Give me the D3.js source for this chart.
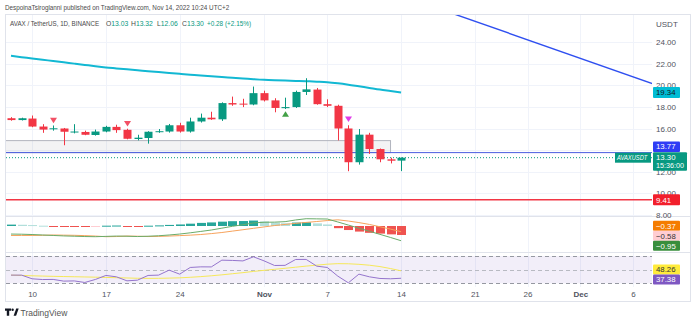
<!DOCTYPE html>
<html>
<head>
<meta charset="utf-8">
<script src="https://cdn.jsdelivr.net/npm/d3@7/dist/d3.min.js"></script>
<style>
  html, body { margin: 0; padding: 0; background: #ffffff; }
  svg { display: block; }
  text { font-family: "Liberation Sans", Arial, sans-serif; }
</style>
</head>
<body>
<svg id="chart" width="696" height="322"></svg>
<script>
// ---- daily AVAX/USDT bars (Binance, 1D) ----
const dates = [
  "2022-10-08","2022-10-09","2022-10-10","2022-10-11","2022-10-12","2022-10-13","2022-10-14",
  "2022-10-15","2022-10-16","2022-10-17","2022-10-18","2022-10-19","2022-10-20","2022-10-21",
  "2022-10-22","2022-10-23","2022-10-24","2022-10-25","2022-10-26","2022-10-27","2022-10-28",
  "2022-10-29","2022-10-30","2022-10-31","2022-11-01","2022-11-02","2022-11-03","2022-11-04",
  "2022-11-05","2022-11-06","2022-11-07","2022-11-08","2022-11-09","2022-11-10","2022-11-11",
  "2022-11-12","2022-11-13","2022-11-14"
];
const opens  = [16.95,16.78,16.92,16.18,15.95,16.00,15.66,15.68,15.40,15.72,16.15,15.88,15.03,15.12,15.68,15.72,16.30,15.72,16.65,17.00,16.85,18.35,18.30,18.22,19.27,18.60,17.88,17.98,19.38,19.60,18.25,18.10,16.00,12.88,15.43,14.10,13.15,13.03];
const highs  = [17.05,17.00,17.20,16.40,16.28,16.05,16.40,15.80,15.90,16.25,16.35,15.98,15.42,15.75,15.95,16.42,16.53,17.00,17.38,17.55,18.42,18.95,18.75,19.88,19.50,18.80,18.85,19.50,20.65,19.75,18.70,18.20,16.30,15.95,15.60,14.15,13.30,13.32];
const lows   = [16.72,16.74,16.12,15.60,15.80,14.45,15.55,15.38,15.34,15.65,15.60,15.00,14.90,14.60,15.60,15.62,15.62,15.62,16.55,16.80,16.70,18.10,17.98,18.15,18.50,17.50,17.80,17.90,19.10,18.20,17.98,14.90,12.05,12.66,13.65,12.88,12.77,12.06];
const closes = [16.78,16.95,16.18,15.90,16.02,15.70,15.72,15.42,15.72,16.15,15.85,15.05,15.15,15.70,15.75,16.30,15.72,16.65,17.00,16.85,18.35,18.22,18.22,19.27,18.60,17.90,17.98,19.38,19.62,18.25,18.10,16.00,12.88,15.43,14.10,13.15,13.02,13.30];

// long moving average (cyan)
const maLong = [22.72,22.60,22.48,22.36,22.24,22.12,22.00,21.88,21.76,21.65,21.56,21.47,21.39,21.30,21.22,21.14,21.06,20.98,20.90,20.83,20.76,20.70,20.63,20.56,20.50,20.46,20.43,20.40,20.37,20.33,20.28,20.18,20.05,19.90,19.75,19.60,19.47,19.34];

// MACD pane
const macdLine   = [-0.52,-0.53,-0.55,-0.58,-0.61,-0.64,-0.66,-0.68,-0.69,-0.67,-0.65,-0.66,-0.68,-0.66,-0.63,-0.58,-0.52,-0.44,-0.35,-0.26,-0.14,-0.02,0.08,0.20,0.24,0.25,0.28,0.39,0.47,0.46,0.45,0.26,0.06,-0.14,-0.34,-0.54,-0.74,-0.95];
const signalLine = [-0.61,-0.61,-0.61,-0.60,-0.58,-0.59,-0.60,-0.62,-0.65,-0.69,-0.68,-0.65,-0.66,-0.68,-0.67,-0.65,-0.62,-0.59,-0.55,-0.49,-0.42,-0.33,-0.24,-0.15,-0.06,0.03,0.10,0.17,0.23,0.29,0.35,0.40,0.32,0.22,0.10,-0.05,-0.20,-0.37];
const macdHist   = [0.09,0.08,0.06,0.02,-0.03,-0.05,-0.06,-0.06,-0.04,0.02,0.03,-0.01,-0.02,0.02,0.04,0.07,0.10,0.15,0.20,0.23,0.28,0.31,0.32,0.35,0.30,0.22,0.18,0.22,0.24,0.17,0.10,-0.14,-0.26,-0.36,-0.44,-0.49,-0.54,-0.58];

// RSI pane
const rsiLine = [42.0,42.0,36.6,35.5,35.7,33.2,33.5,31.2,35.6,41.5,39.5,33.6,34.6,41.5,42.0,49.3,43.4,53.2,54.1,54.0,63.9,63.5,62.8,68.8,62.9,56.1,56.3,64.9,65.0,55.1,53.2,40.5,30.7,43.4,39.5,37.1,36.6,37.38];
const rsiMa   = [42.0,41.5,41.0,40.6,40.2,39.9,39.6,39.3,39.0,38.6,38.2,37.8,37.4,37.2,37.3,37.6,38.0,38.8,39.8,41.0,42.4,44.0,45.6,47.4,49.0,50.5,52.0,53.6,55.2,56.6,58.0,58.8,58.6,57.8,56.5,54.5,51.6,48.26];
const rsiBands = [70, 50, 30];

// signal markers
const sellSignals  = ["2022-10-12","2022-10-19"];
const crashSignals = ["2022-11-09"];
const buySignals   = ["2022-11-03"];

// drawings
const zoneDates  = ["2022-10-01","2022-11-13"];
const zonePrices = [14.88, 13.77];
const trendDates  = ["2022-11-19","2022-12-08"];
const trendPrices = [26.6, 20.1];
const blueLevel = 13.77;
const redLevel = 9.41;
const lastTime = "15:36:00";

// axes (14.00 sits under the level tags, so it only gets a grid line)
const gridTicks = [24, 22, 20, 18, 16, 14, 12, 10, 8];
const priceTicks = [24, 22, 20, 18, 16, 12, 10, 8];
const timeTicks = ["2022-10-10","2022-10-17","2022-10-24","2022-11-01","2022-11-07","2022-11-14","2022-11-21","2022-11-26","2022-12-01","2022-12-06"];
const timeTickLabels = ["10","17","24","Nov","7","14","21","26","Dec","6"];

// ---- layout ----
const W = 696, H = 322;
const plotL = 6, plotR = 652, frameR = 690;
const mainTop = 15, mainBot = 216, macdTop = 217, macdBot = 252, rsiTop = 253, rsiBot = 287, frameBot = 301;
const axisX = 656;

const UP = "#089981", DOWN = "#F23645";
const parse = d3.utcParse("%Y-%m-%d");
const bars = dates.map((d, i) => ({
  key: d, date: parse(d), o: opens[i], h: highs[i], l: lows[i], c: closes[i],
  ma: maLong[i], macd: macdLine[i], sig: signalLine[i], hist: macdHist[i],
  rsi: rsiLine[i], rsiMa: rsiMa[i]
}));

const x = d3.scaleUtc().domain([parse("2022-10-08"), parse("2022-12-06")]).range([11, 633]);
const y = d3.scaleLinear().domain([24, 8]).range([42, 215]);
const yMacd = d3.scaleLinear().domain([0, -1]).range([226, 241.5]);
const yRsi = d3.scaleLinear().domain([70, 30]).range([256, 283.3]);

const svg = d3.select("#chart");
const defs = svg.append("defs");
defs.append("clipPath").attr("id", "clipMain").append("rect")
  .attr("x", plotL).attr("y", mainTop).attr("width", plotR - plotL).attr("height", mainBot - mainTop);
defs.append("clipPath").attr("id", "clipMacd").append("rect")
  .attr("x", plotL).attr("y", macdTop).attr("width", plotR - plotL).attr("height", macdBot - macdTop);
defs.append("clipPath").attr("id", "clipRsi").append("rect")
  .attr("x", plotL).attr("y", rsiTop).attr("width", plotR - plotL).attr("height", rsiBot - rsiTop);

svg.append("rect").attr("width", W).attr("height", H).attr("fill", "#ffffff");

// vertical grid through all panes
svg.append("g").selectAll("line").data(timeTicks).join("line")
  .attr("x1", d => Math.round(x(parse(d))) + 0.5).attr("x2", d => Math.round(x(parse(d))) + 0.5)
  .attr("y1", mainTop).attr("y2", rsiBot)
  .attr("stroke", "#f0f3fa").attr("stroke-width", 1);

// horizontal price grid
svg.append("g").selectAll("line").data(gridTicks).join("line")
  .attr("x1", plotL).attr("x2", plotR)
  .attr("y1", d => Math.round(y(d)) + 0.5).attr("y2", d => Math.round(y(d)) + 0.5)
  .attr("stroke", "#f0f3fa").attr("stroke-width", 1);

// frame and pane separators
svg.append("rect").attr("x", plotL - 0.5).attr("y", mainTop - 0.5)
  .attr("width", frameR - plotL + 1).attr("height", frameBot - mainTop + 1)
  .attr("fill", "none").attr("stroke", "#e0e3eb");
[mainBot + 0.5, macdBot + 0.5].forEach(v => {
  svg.append("line").attr("x1", plotL).attr("x2", frameR).attr("y1", v).attr("y2", v)
    .attr("stroke", "#e0e3eb");
});

// ---- main pane ----
const main = svg.append("g").attr("clip-path", "url(#clipMain)");

// zone rectangle
main.append("rect")
  .attr("x", x(parse(zoneDates[0]))).attr("y", y(zonePrices[0]))
  .attr("width", x(parse(zoneDates[1])) - x(parse(zoneDates[0])))
  .attr("height", y(zonePrices[1]) - y(zonePrices[0]))
  .attr("fill", "rgba(120,123,134,0.09)").attr("stroke", "#b2b5be").attr("stroke-width", 1);

// horizontal levels
main.append("line").attr("x1", plotL).attr("x2", plotR)
  .attr("y1", y(blueLevel)).attr("y2", y(blueLevel))
  .attr("stroke", "#4a5ce0").attr("stroke-width", 1);
main.append("line").attr("x1", plotL).attr("x2", plotR)
  .attr("y1", y(closes[closes.length - 1])).attr("y2", y(closes[closes.length - 1]))
  .attr("stroke", UP).attr("stroke-width", 1).attr("stroke-dasharray", "1,2");
main.append("line").attr("x1", plotL).attr("x2", plotR)
  .attr("y1", y(redLevel)).attr("y2", y(redLevel))
  .attr("stroke", DOWN).attr("stroke-width", 1.5);

// trend line
main.append("line")
  .attr("x1", x(parse(trendDates[0]))).attr("y1", y(trendPrices[0]))
  .attr("x2", x(parse(trendDates[1]))).attr("y2", y(trendPrices[1]))
  .attr("stroke", "#2f4ff0").attr("stroke-width", 1.4);

// moving average
main.append("path").datum(bars)
  .attr("d", d3.line().x(d => x(d.date)).y(d => y(d.ma)).curve(d3.curveMonotoneX))
  .attr("fill", "none").attr("stroke", "#12b8d3").attr("stroke-width", 2);

// candles
const bodyW = 8;
const candle = main.append("g").selectAll("g").data(bars).join("g");
candle.append("line")
  .attr("x1", d => Math.round(x(d.date)) + 0.5).attr("x2", d => Math.round(x(d.date)) + 0.5)
  .attr("y1", d => y(d.h)).attr("y2", d => y(d.l))
  .attr("stroke", d => d.c >= d.o ? UP : DOWN).attr("stroke-width", 1);
candle.append("rect")
  .attr("x", d => Math.round(x(d.date)) - bodyW / 2 + 0.5)
  .attr("y", d => y(Math.max(d.o, d.c)))
  .attr("width", bodyW)
  .attr("height", d => Math.max(1, y(Math.min(d.o, d.c)) - y(Math.max(d.o, d.c))))
  .attr("fill", d => d.c >= d.o ? UP : DOWN);

// signal markers
const byDate = new Map(bars.map(b => [b.key, b]));
function triDown(cx, cy, s) { return `M${cx - s},${cy - s * 0.8}L${cx + s},${cy - s * 0.8}L${cx},${cy + s * 0.8}Z`; }
function triUp(cx, cy, s) { return `M${cx - s},${cy + s * 0.8}L${cx + s},${cy + s * 0.8}L${cx},${cy - s * 0.8}Z`; }
main.append("g").selectAll("path").data(sellSignals).join("path")
  .attr("d", d => { const b = byDate.get(d); return triDown(Math.round(x(b.date)) + 0.5, y(b.h) - 5, 3.5); })
  .attr("fill", "#f25065");
main.append("g").selectAll("path").data(crashSignals).join("path")
  .attr("d", d => { const b = byDate.get(d); return triDown(Math.round(x(b.date)) + 0.5, y(b.h) - 6, 3.5); })
  .attr("fill", "#e03ce8");
main.append("g").selectAll("path").data(buySignals).join("path")
  .attr("d", d => { const b = byDate.get(d); return triUp(Math.round(x(b.date)) + 0.5, y(b.l) + 5, 3.5); })
  .attr("fill", "#43a047");

// ---- MACD pane ----
const macdG = svg.append("g").attr("clip-path", "url(#clipMacd)");
macdG.append("g").selectAll("rect").data(bars).join("rect")
  .attr("x", d => Math.round(x(d.date)) - 4)
  .attr("width", 9)
  .attr("y", d => Math.min(yMacd(0), yMacd(d.hist)))
  .attr("height", d => Math.max(1, Math.abs(yMacd(d.hist) - yMacd(0))))
  .attr("fill", (d, i) => {
    const prev = i > 0 ? bars[i - 1].hist : d.hist;
    if (d.hist >= 0) return d.hist >= prev ? "#26a69a" : "#b2dfdb";
    return d.hist <= prev ? "#ef5350" : "#ffcdd2";
  });
macdG.append("path").datum(bars)
  .attr("d", d3.line().x(d => x(d.date)).y(d => yMacd(d.sig)))
  .attr("fill", "none").attr("stroke", "#f7a35c").attr("stroke-width", 1);
macdG.append("path").datum(bars)
  .attr("d", d3.line().x(d => x(d.date)).y(d => yMacd(d.macd)))
  .attr("fill", "none").attr("stroke", "#6aac6a").attr("stroke-width", 1);

// ---- RSI pane ----
const rsiG = svg.append("g").attr("clip-path", "url(#clipRsi)");
rsiG.append("rect").attr("x", plotL).attr("width", plotR - plotL)
  .attr("y", yRsi(70)).attr("height", yRsi(30) - yRsi(70))
  .attr("fill", "rgba(126,87,194,0.1)");
rsiG.selectAll("line.band").data(rsiBands).join("line")
  .attr("class", "band")
  .attr("x1", plotL).attr("x2", plotR)
  .attr("y1", d => Math.round(yRsi(d)) + 0.5).attr("y2", d => Math.round(yRsi(d)) + 0.5)
  .attr("stroke", d => d === 50 ? "#b8bac2" : "#9598a1").attr("stroke-width", 1)
  .attr("stroke-dasharray", "4,3");
rsiG.append("path").datum(bars)
  .attr("d", d3.line().x(d => x(d.date)).y(d => yRsi(d.rsiMa)))
  .attr("fill", "none").attr("stroke", "#f6e85a").attr("stroke-width", 1);
rsiG.append("path").datum(bars)
  .attr("d", d3.line().x(d => x(d.date)).y(d => yRsi(d.rsi)))
  .attr("fill", "none").attr("stroke", "#9575cd").attr("stroke-width", 1);

// ---- price axis ----
const axisG = svg.append("g").attr("transform", `translate(${axisX - 4},0)`)
  .call(d3.axisRight(y).tickValues(priceTicks).tickFormat(d3.format(".2f")).tickSize(0).tickPadding(4));
axisG.select(".domain").remove();
axisG.selectAll("text").attr("font-size", 8).attr("fill", "#50535e")
  .attr("font-family", "'Liberation Sans', Arial, sans-serif");
svg.append("text").attr("x", axisX).attr("y", 27).attr("font-size", 8).attr("fill", "#50535e").text("USDT");

// ---- time axis ----
const tAxis = svg.append("g").attr("transform", `translate(0,${rsiBot})`)
  .call(d3.axisBottom(x).tickValues(timeTicks.map(parse))
    .tickFormat((d, i) => timeTickLabels[i]).tickSize(0).tickPadding(4));
tAxis.select(".domain").remove();
tAxis.selectAll("text").attr("font-size", 8).attr("fill", "#50535e")
  .attr("font-family", "'Liberation Sans', Arial, sans-serif")
  .attr("font-weight", (d, i) => /^[A-Z]/.test(timeTickLabels[i]) ? "bold" : "normal");

// ---- value labels on the price scale ----
function tag(cy, h, text, bg, fg, w) {
  const g = svg.append("g");
  g.append("rect").attr("x", axisX - 3).attr("y", cy - h / 2).attr("width", w || 27).attr("height", h)
    .attr("fill", bg).attr("rx", 1);
  g.append("text").attr("x", axisX).attr("y", cy + 2.8).attr("font-size", 7.8).attr("fill", fg).text(text);
  return g;
}
function spread(values, minGap) {
  const items = values.map((v, i) => ({ i, v })).sort((a, b) => a.v - b.v);
  const mean = d3.mean(values);
  const out = [];
  let cur = -Infinity;
  items.forEach(d => {
    const p = Math.max(d.v, cur + minGap);
    out[d.i] = p; cur = p;
  });
  // keep the packed block centred on the original values
  const shift = d3.mean(out) - mean;
  return out.map(p => p - shift);
}

const last = bars[bars.length - 1];
const prev = bars[bars.length - 2];
tag(y(last.ma), 11, d3.format(".2f")(last.ma), "#00bcd4", "#131722");

// last price with countdown
const lastY = y(last.c);
const lp = svg.append("g");
lp.append("rect").attr("x", axisX - 3).attr("y", lastY - 5.5).attr("width", 34).attr("height", 18.5).attr("fill", UP).attr("rx", 1);
lp.append("text").attr("x", axisX).attr("y", lastY + 2.6).attr("font-size", 7.8).attr("fill", "#fff").text(d3.format(".2f")(last.c));
lp.append("text").attr("x", axisX).attr("y", lastY + 10.3).attr("font-size", 7.2).attr("fill", "#fff").text(lastTime);
tag(Math.min(y(blueLevel), lastY - 5.5 - 5.5), 10.5, d3.format(".2f")(blueLevel), "#2f3cf5", "#ffffff");
tag(y(redLevel), 11, d3.format(".2f")(redLevel), "#f21f2c", "#ffffff");

// narrow text: horizontally squeezed so the layout box matches the drawn glyphs
function narrowText(px, py, size, sx) {
  return svg.append("text")
    .attr("transform", `translate(${px},${py}) scale(${sx},1)`)
    .attr("font-size", size);
}

// symbol tag next to the scale
svg.append("rect").attr("x", 615).attr("y", lastY - 5).attr("width", 36).attr("height", 10).attr("fill", UP);
narrowText(617, lastY + 2.6, 7.2, 0.8).attr("font-style", "italic").attr("fill", "#fff").text("AVAXUSDT");

// MACD tags
const macdVals = [last.sig, last.hist, last.macd];
const macdPos = spread(macdVals.map(v => yMacd(v)), 10);
const macdColors = [["#f57c00", "#fff"], ["#ffcdd2", "#333"], ["#388e3c", "#fff"]];
macdVals.forEach((v, i) => tag(macdPos[i], 10, d3.format(".2f")(v).replace("-", "\u2212"), macdColors[i][0], macdColors[i][1]));

// RSI tags
const rsiVals = [last.rsiMa, last.rsi];
const rsiPos = spread(rsiVals.map(v => yRsi(v)), 10);
const rsiColors = [["#ffeb3b", "#333"], ["#7e57c2", "#fff"]];
rsiVals.forEach((v, i) => tag(rsiPos[i], 10, d3.format(".2f")(v), rsiColors[i][0], rsiColors[i][1]));

// ---- header texts ----
narrowText(5, 10, 8, 0.79).attr("fill", "#4a4a4a")
  .text("DespoinaTsiroglanni published on TradingView.com, Nov 14, 2022 10:24 UTC+2");

const legendY = 26;
narrowText(10, legendY, 8, 0.78).attr("fill", "#4a4a4a").text("AVAX / TetherUS, 1D, BINANCE");
const chg = last.c - prev.c;
const ohlc = [["O", last.o, 106], ["H", last.h, 131], ["L", last.l, 157], ["C", last.c, 182]];
ohlc.forEach(([k, v, px]) => {
  const t = narrowText(px, legendY, 8, 0.85);
  t.append("tspan").attr("fill", "#4a4a4a").text(k);
  t.append("tspan").attr("fill", UP).text(d3.format(".2f")(v));
});
narrowText(207, legendY, 8, 0.8).attr("fill", UP)
  .text(`+${d3.format(".2f")(chg)} (+${d3.format(".2f")(chg / prev.c * 100)}%)`);

// ---- footer logo ----
const logo = svg.append("g").attr("fill", "#131722");
logo.append("path").attr("d", "M5,308.5h6v2.2h-1.8v5h-2.4v-5H5z");
logo.append("circle").attr("cx", 12.6).attr("cy", 309.8).attr("r", 1.2);
logo.append("path").attr("d", "M13.6,315.7l2.6-7.2h2.5l-2.6,7.2z");
svg.append("text").attr("x", 20.5).attr("y", 315.5).attr("font-size", 8.5).attr("fill", "#555")
  .text("TradingView");
</script>
</body>
</html>
